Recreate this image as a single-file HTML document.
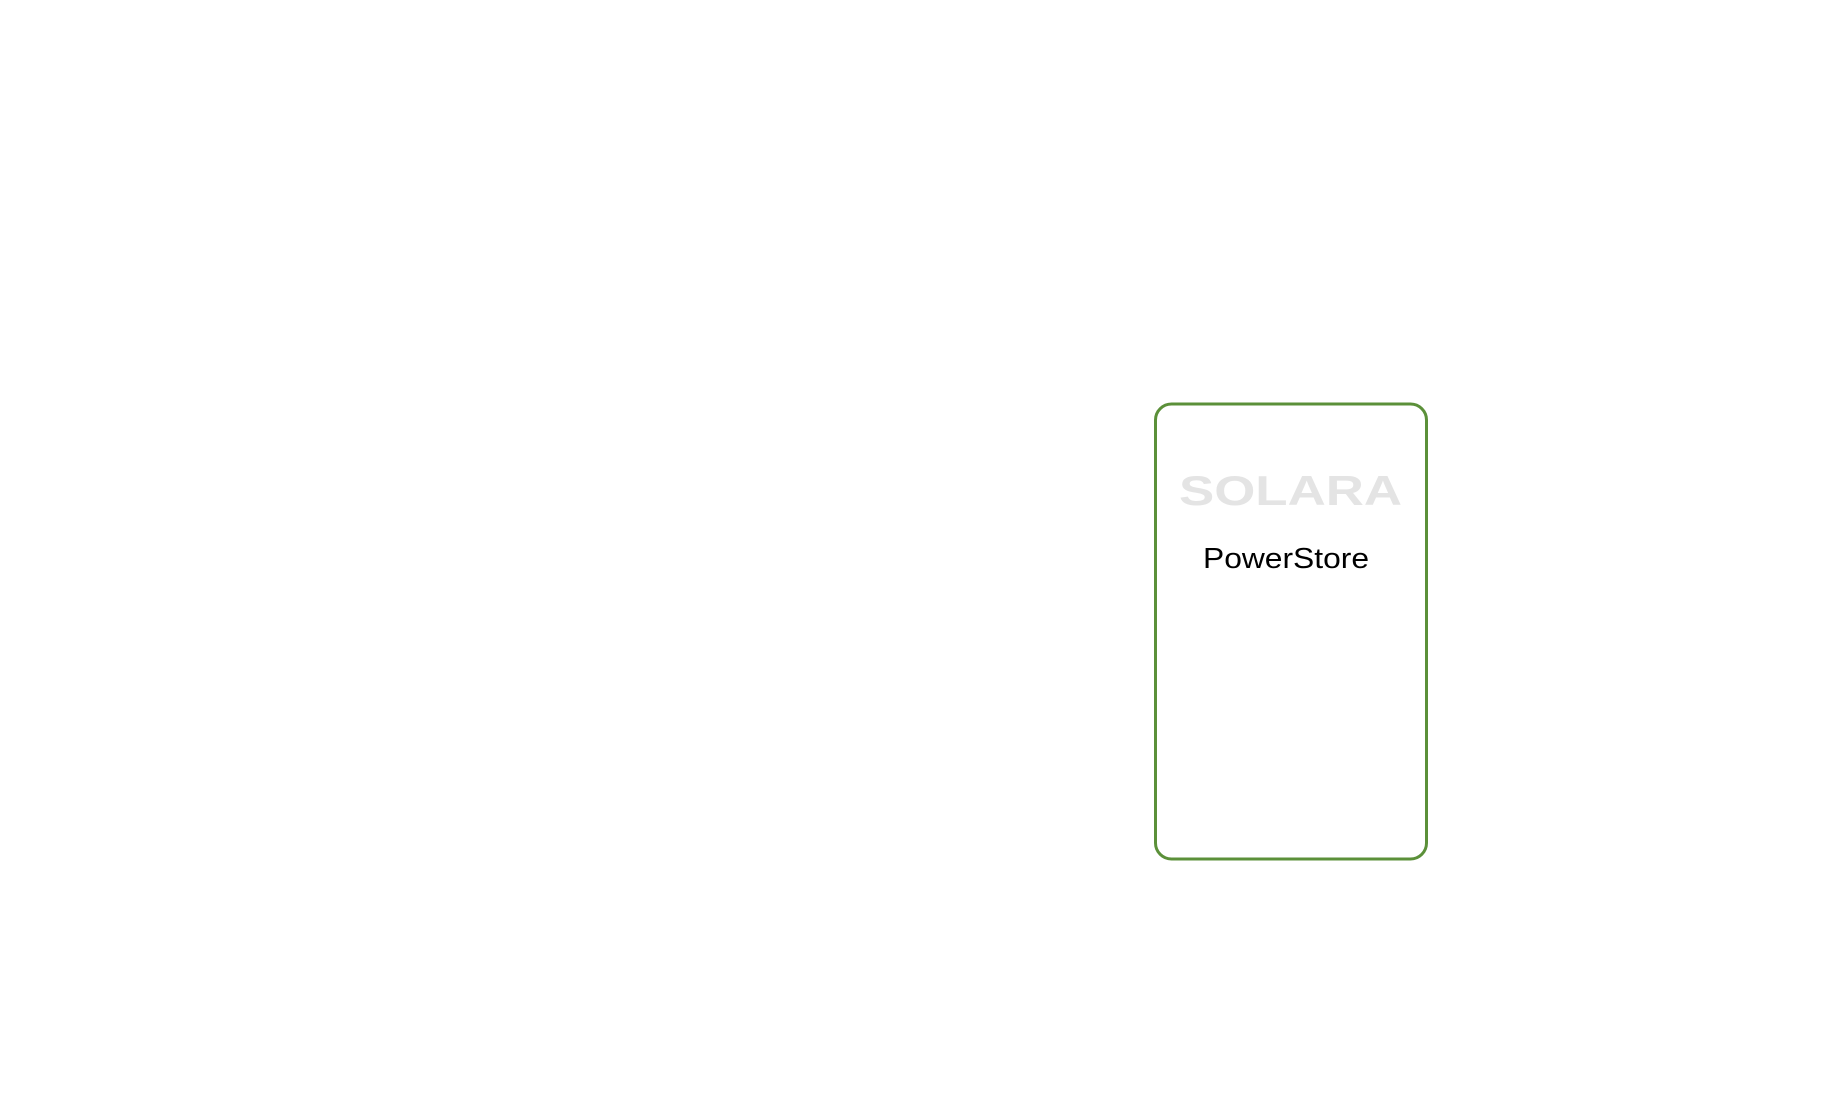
<!DOCTYPE html>
<html><head><meta charset="utf-8"><style>
html,body{margin:0;padding:0;background:#fff;width:1846px;height:1105px;overflow:hidden}
</style></head><body>
<svg width="1846" height="1105" xmlns="http://www.w3.org/2000/svg">
<rect x="1155.5" y="404" width="271" height="455" rx="16" ry="16" fill="#fff" stroke="#5b9039" stroke-width="3"/>
<text x="1179" y="505" font-family="Liberation Sans, sans-serif" font-weight="bold" font-size="42" fill="#e4e4e4" textLength="223" lengthAdjust="spacingAndGlyphs">SOLARA</text>
<text x="1203" y="568" font-family="Liberation Sans, sans-serif" font-size="29" fill="#000" textLength="166" lengthAdjust="spacingAndGlyphs">PowerStore</text>
</svg>
</body></html>
